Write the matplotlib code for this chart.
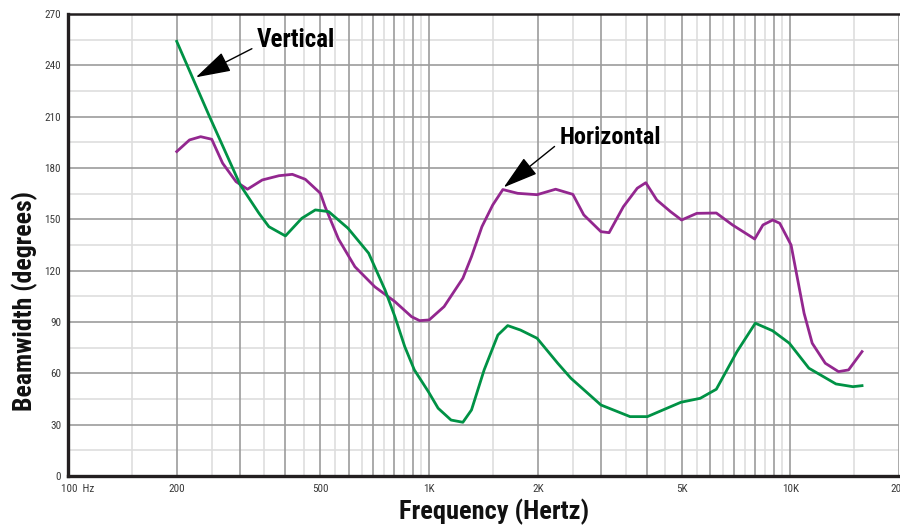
import matplotlib
matplotlib.use('Agg')
import matplotlib.pyplot as plt
import matplotlib.transforms as mtransforms
from matplotlib import font_manager as fm
import numpy as np

# Values
vert_freq = [200, 246, 300, 338, 360, 400, 444, 484, 527, 596, 680, 755, 804, 856, 910,
             995, 1059, 1150, 1240, 1310, 1420, 1550, 1650, 1790, 1990, 2270, 2470, 2990,
             3600, 4020, 4980, 5630, 6240, 7120, 8000, 8930, 9940, 11260, 13380, 14900, 15800]
vert_deg = [254, 210.5, 170, 153.5, 145.7, 140.3, 150.6, 155.5, 154.5, 144.8, 130.2, 108.7, 93.1,
            75.6, 62, 49.3, 39.6, 32.7, 31.4, 38.6, 62, 82.4, 87.9, 85.3, 80.5, 65.9, 57.1, 41.5,
            34.7, 34.7, 43.1, 45.4, 50.7, 72.7, 89.3, 84.9, 77.6, 63, 53.8, 52.2, 52.8]

horiz_freq = [200, 217, 233, 250, 268, 292, 314, 345, 384, 418, 454, 500, 515, 561, 623, 707,
              804, 894, 941, 1000, 1100, 1240, 1310, 1400, 1500, 1600, 1759, 1990, 2240, 2500,
              2680, 2990, 3150, 3450, 3770, 3980, 4270, 4660, 5000, 5510, 6240, 6920, 7970,
              8400, 8940, 9350, 10050, 10400, 10920, 11500, 12500, 13600, 14500, 15800]
horiz_deg = [189.6, 196.4, 198.3, 196.8, 182.8, 172, 167.6, 173, 175.5, 176.3, 173.4, 165.2,
             157.4, 138.5, 122.3, 110.6, 101.9, 93.1, 90.8, 91.2, 99, 115.6, 128.2, 145.7, 158.4,
             167.4, 165.2, 164.4, 167.6, 164.6, 152.6, 142.8, 142.2, 157.4, 168.2, 171.4, 161.3,
             154.5, 149.6, 153.5, 153.7, 146.7, 138.5, 146.7, 149.6, 147.7, 135, 118.5, 95.1,
             77.6, 65.9, 61, 62, 72.7]

x_ticks = [100, 200, 500, 1000, 2000, 5000, 10000, 20000]
x_labels = ['100  Hz', '200', '500', '1K', '2K', '5K', '10K', '20K']
y_ticks = list(range(0, 271, 30))


# look for a narrow/condensed sans face, the chart uses a condensed Helvetica
def pick_condensed():
    fonts = [(f.name, str(f.stretch).lower()) for f in fm.fontManager.ttflist]
    names = {n for n, _ in fonts}
    for n in ['Liberation Sans Narrow', 'Roboto Condensed', 'Noto Sans Condensed',
              'Open Sans Condensed', 'DejaVu Sans Condensed']:
        if n in names:
            return n, 'normal'
    for n in ['Noto Sans', 'DejaVu Sans', 'Open Sans', 'Roboto']:
        if any(name == n and 'condensed' in st for name, st in fonts):
            return n, 'condensed'
    return 'DejaVu Sans', 'normal'


fam, stretch = pick_condensed()
plt.rcParams['font.family'] = [fam, 'DejaVu Sans']
plt.rcParams['font.stretch'] = stretch
shrink = 1.0 if (stretch == 'condensed' or fam != 'DejaVu Sans') else 0.84

fig = plt.figure(figsize=(9, 5.25), dpi=100)
ax = fig.add_axes([68 / 900, 49 / 525, 831 / 900, 462 / 525])
ax.set_xscale('log')
ax.set_xlim(100, 20000)
ax.set_ylim(0, 270)

# grid: darker lines on whole steps, lighter on half steps
dark_x = [k * 10 ** d for d in (2, 3) for k in range(2, 10)] + [1000, 10000, 20000]
light_x = [(k + 0.5) * 10 ** d for d in (2, 3) for k in range(1, 10)] + [15000]
for x in light_x:
    ax.axvline(x, color='#dedede', lw=1.2, zorder=1)
for x in dark_x:
    ax.axvline(x, color='#9c9c9c', lw=1.2, zorder=1.5)
for y in np.arange(15, 270, 30):
    ax.axhline(y, color='#dedede', lw=1.2, zorder=1)
for y in range(30, 270, 30):
    ax.axhline(y, color='#9c9c9c', lw=1.2, zorder=1.5)

ax.plot(horiz_freq, horiz_deg, color='#93278F', lw=2, zorder=3, solid_joinstyle='round')
ax.plot(vert_freq, vert_deg, color='#009245', lw=2, zorder=3.2, solid_joinstyle='round')

ax.set_xticks(x_ticks)
ax.set_xticklabels(x_labels)
ax.xaxis.set_minor_locator(matplotlib.ticker.NullLocator())
ax.set_yticks(y_ticks)
ax.tick_params(length=0, labelsize=8 * shrink, labelcolor='#3a3a3a')
ax.tick_params(axis='x', pad=6)
ax.tick_params(axis='y', pad=5)
lab0 = ax.get_xticklabels()[0]
lab0.set_horizontalalignment('left')
lab0.set_transform(lab0.get_transform() + mtransforms.ScaledTranslation(-5 / 72, 0, fig.dpi_scale_trans))

for side in ['left', 'bottom']:
    ax.spines[side].set_linewidth(2.4)
    ax.spines[side].set_color('#231f20')
ax.spines['top'].set_linewidth(1.8)
ax.spines['top'].set_color('#231f20')
ax.spines['right'].set_visible(False)
for s in ax.spines.values():
    s.set_zorder(4)

fig.text(494 / 900, 1 - 512 / 525, 'Frequency (Hertz)', ha='center', va='center',
         fontsize=19 * shrink, fontweight='bold', color='#111111')
fig.text(25 / 900, 1 - 301 / 525, 'Beamwidth (degrees)', ha='center', va='center',
         rotation=90, fontsize=18.5 * shrink, fontweight='bold', color='#111111')

arrow = dict(arrowstyle='-|>,head_length=2.2,head_width=0.65', mutation_scale=10,
             color='black', lw=1, shrinkA=2, shrinkB=0)
ax.annotate('Vertical', xy=(226, 233), xytext=(334, 254.8), ha='left', va='center',
            fontsize=18 * shrink, fontweight='bold', zorder=5,
            arrowprops=dict(arrow, relpos=(0, 0.25)))
ax.annotate('Horizontal', xy=(1609, 168.7), xytext=(2296, 197.6), ha='left', va='center',
            fontsize=17.6 * shrink, fontweight='bold', zorder=5,
            arrowprops=dict(arrow, relpos=(0, 0.3)))

fig.savefig('out.png', dpi=100, facecolor='white')
